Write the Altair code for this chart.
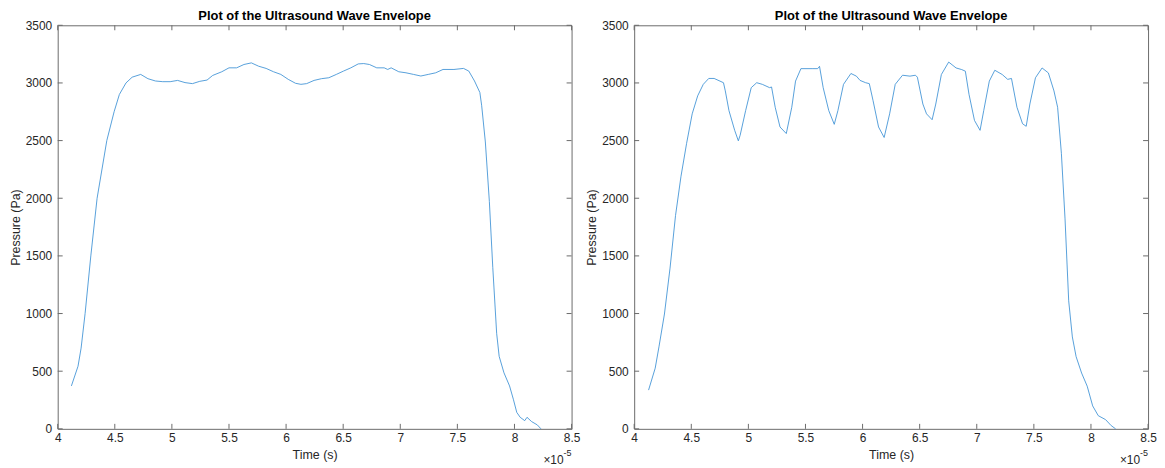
import altair as alt
import pandas as pd

# Time values are in units of 1e-5 s (axis shows x10^-5)
left_t = [4.12, 4.178, 4.205, 4.24, 4.29, 4.345, 4.43, 4.494, 4.54, 4.598, 4.652, 4.727, 4.79,
          4.856, 4.92, 4.985, 5.05, 5.115, 5.18, 5.244, 5.308, 5.357, 5.437, 5.5, 5.567, 5.631,
          5.696, 5.76, 5.825, 5.89, 5.954, 6.019, 6.083, 6.13, 6.18, 6.245, 6.31, 6.374, 6.44,
          6.503, 6.567, 6.632, 6.68, 6.73, 6.794, 6.859, 6.89, 6.92, 6.987, 7.05, 7.116, 7.18,
          7.245, 7.31, 7.374, 7.47, 7.554, 7.6, 7.65, 7.697, 7.713, 7.745, 7.78, 7.81, 7.844,
          7.866, 7.908, 7.957, 7.99, 8.02, 8.05, 8.09, 8.11, 8.15, 8.2, 8.232]
left_p = [372, 543, 700, 1000, 1500, 2000, 2500, 2750, 2900, 3000, 3050, 3074, 3037,
          3017, 3011, 3011, 3022, 3003, 2994, 3014, 3025, 3065, 3097, 3131, 3131, 3160,
          3174, 3145, 3126, 3097, 3074, 3031, 2997, 2988, 2994, 3022, 3037, 3045, 3074,
          3103, 3131, 3165, 3168, 3160, 3131, 3131, 3117, 3131, 3097, 3088, 3074, 3060,
          3074, 3088, 3117, 3117, 3126, 3103, 3017, 2917, 2802, 2488, 1973, 1401, 829,
          629, 486, 372, 257, 143, 100, 71, 100, 63, 34, 0]

right_t = [4.126, 4.184, 4.217, 4.265, 4.314, 4.362, 4.41, 4.459, 4.508, 4.556, 4.605, 4.653,
           4.7, 4.782, 4.798, 4.83, 4.88, 4.912, 4.928, 4.976, 5.025, 5.073, 5.122, 5.186,
           5.203, 5.235, 5.277, 5.332, 5.38, 5.413, 5.46, 5.558, 5.607, 5.623, 5.655, 5.704,
           5.752, 5.784, 5.833, 5.898, 5.946, 5.978, 6.027, 6.059, 6.092, 6.14, 6.189, 6.237,
           6.286, 6.35, 6.415, 6.463, 6.48, 6.528, 6.56, 6.609, 6.641, 6.69, 6.754, 6.819,
           6.868, 6.9, 6.932, 6.98, 7.029, 7.061, 7.11, 7.158, 7.223, 7.271, 7.304, 7.352,
           7.401, 7.433, 7.465, 7.514, 7.572, 7.627, 7.676, 7.708, 7.741, 7.773, 7.805,
           7.837, 7.87, 7.918, 7.967, 8.015, 8.064, 8.128, 8.177, 8.216]
right_p = [336, 526, 711, 996, 1394, 1850, 2191, 2476, 2732, 2888, 2988, 3039,
           3039, 3002, 2931, 2760, 2589, 2498, 2547, 2760, 2959, 3002, 2988, 2959,
           2965, 2789, 2618, 2561, 2789, 3016, 3124, 3124, 3124, 3144, 2959, 2760,
           2641, 2760, 2988, 3082, 3059, 3022, 3002, 2994, 2846, 2618, 2527, 2732,
           2988, 3067, 3059, 3067, 3050, 2817, 2732, 2681, 2817, 3073, 3181, 3130,
           3116, 3102, 2902, 2675, 2589, 2760, 3016, 3110, 3073, 3031, 3039, 2789,
           2646, 2624, 2817, 3045, 3130, 3087, 2931, 2789, 2390, 1821, 1110,
           797, 626, 484, 370, 199, 114, 80, 28, 0]

x_ticks = [4, 4.5, 5, 5.5, 6, 6.5, 7, 7.5, 8, 8.5]
y_ticks = [0, 500, 1000, 1500, 2000, 2500, 3000, 3500]

TITLE = "Plot of the Ultrasound Wave Envelope"
W, H = 517, 406
LINE_COLOR = "#3a90d4"
AX_COLOR = "#262626"
TICK_COLOR = "#6b6b6b"


def panel(t, p):
    df = pd.DataFrame({"t": t, "p": p})
    xs = alt.Scale(domain=[4, 8.5], nice=False, zero=False)
    ys = alt.Scale(domain=[0, 3500], nice=False, zero=False)
    xaxis = alt.Axis(values=x_ticks, title="Time (s)", ticks=False, tickSize=0, domain=False,
                     grid=False, labelPadding=4, titlePadding=5, format="~g",
                     labelFlush=False, labelOverlap=False)
    yaxis = alt.Axis(values=y_ticks, title="Pressure (Pa)", ticks=False, tickSize=0, domain=False,
                     grid=False, labelPadding=6, titlePadding=3, format="d",
                     labelOverlap=False)
    line = alt.Chart(df).mark_line(color=LINE_COLOR, strokeWidth=0.85).encode(
        x=alt.X("t:Q", scale=xs, axis=xaxis),
        y=alt.Y("p:Q", scale=ys, axis=yaxis),
    )
    xt = pd.DataFrame({"t": x_ticks})
    yt = pd.DataFrame({"p": y_ticks})
    tb = alt.Chart(xt).mark_rule(color=TICK_COLOR, strokeWidth=1).encode(
        x=alt.X("t:Q", scale=xs), y=alt.value(H), y2=alt.value(H - 5))
    tt = alt.Chart(xt).mark_rule(color=TICK_COLOR, strokeWidth=1).encode(
        x=alt.X("t:Q", scale=xs), y=alt.value(0), y2=alt.value(5))
    tl = alt.Chart(yt).mark_rule(color=TICK_COLOR, strokeWidth=1).encode(
        y=alt.Y("p:Q", scale=ys), x=alt.value(0), x2=alt.value(5))
    tr = alt.Chart(yt).mark_rule(color=TICK_COLOR, strokeWidth=1).encode(
        y=alt.Y("p:Q", scale=ys), x=alt.value(W), x2=alt.value(W - 5))
    exp_base = alt.Chart(pd.DataFrame({"s": ["×10"]})).mark_text(
        align="right", baseline="middle", fontSize=12, color=AX_COLOR).encode(
        text="s:N", x=alt.value(W - 8), y=alt.value(H + 31))
    exp_sup = alt.Chart(pd.DataFrame({"s": ["-5"]})).mark_text(
        align="left", baseline="middle", fontSize=9, color=AX_COLOR).encode(
        text="s:N", x=alt.value(W - 8), y=alt.value(H + 24))
    return alt.layer(line, tb, tt, tl, tr, exp_base, exp_sup).properties(
        width=W, height=H,
        title=alt.TitleParams(TITLE, fontSize=13, fontWeight="bold", color="#000000",
                              anchor="middle", offset=-3.5, frame="group"),
    )


chart = alt.hconcat(panel(left_t, left_p), panel(right_t, right_p), spacing=63,
                    bounds="flush").properties(
    padding={"left": 0, "top": 0, "right": 0, "bottom": 0}
).configure(
    font="Liberation Sans",
).configure_view(
    stroke="#6b6b6b", strokeWidth=1
).configure_axis(
    labelFont="Liberation Sans", titleFont="Liberation Sans",
    labelFontSize=12, titleFontSize=12.5, labelColor=AX_COLOR, titleColor=AX_COLOR,
    titleFontWeight="normal",
).configure_title(font="Liberation Sans")

chart.save("out.html", embed_options={"renderer": "svg", "actions": False})
